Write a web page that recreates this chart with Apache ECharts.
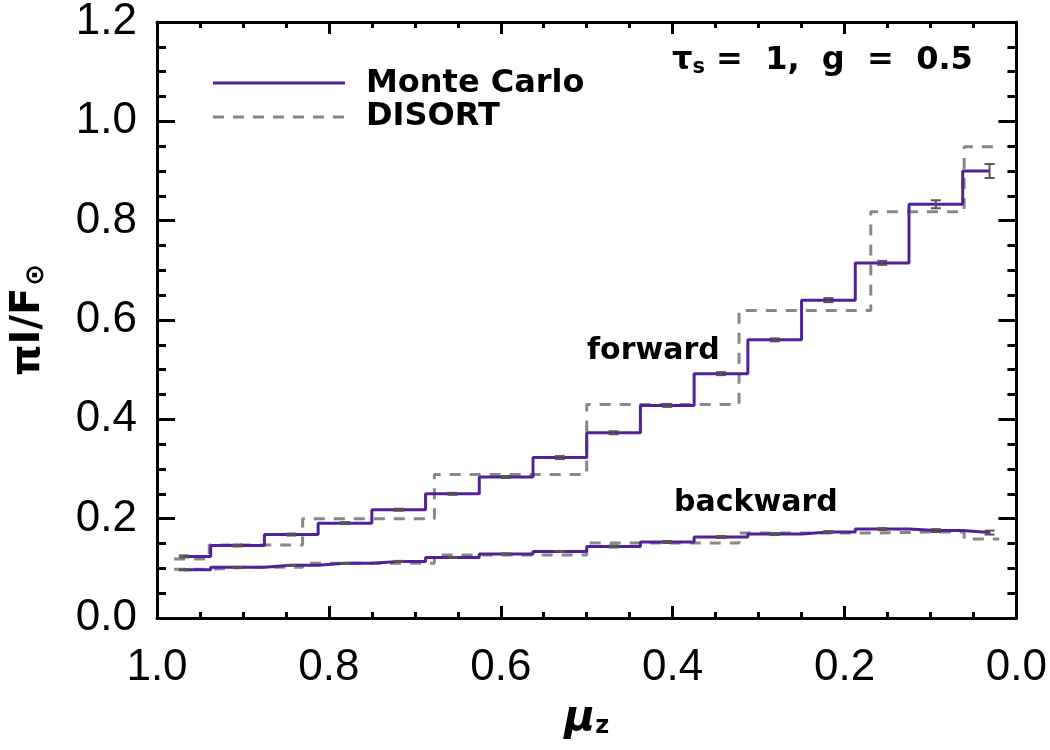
<!DOCTYPE html>
<html>
<head>
<meta charset="utf-8">
<script src="https://cdn.jsdelivr.net/npm/echarts@6/dist/echarts.min.js"></script>
<style>
  html, body { margin: 0; padding: 0; background: #fff; }
  #main { width: 1050px; height: 750px; }
</style>
</head>
<body>
<div id="main"></div>
<script>
// Monte Carlo bins (centres in mu_z) and values
var muMC = [0.96875, 0.90625, 0.84375, 0.78125, 0.71875, 0.65625, 0.59375, 0.53125,
            0.46875, 0.40625, 0.34375, 0.28125, 0.21875, 0.15625, 0.09375, 0.03125];
var mcForward = [0.124, 0.146, 0.168, 0.191, 0.218, 0.250, 0.284, 0.323,
                 0.373, 0.428, 0.492, 0.560, 0.640, 0.715, 0.833, 0.900];
var mcForwardErr = [0.002, 0.002, 0.002, 0.002, 0.002, 0.002, 0.002, 0.003,
                    0.003, 0.003, 0.003, 0.003, 0.004, 0.004, 0.008, 0.014];
var mcBackward = [0.097, 0.102, 0.106, 0.110, 0.114, 0.122, 0.129, 0.134,
                  0.144, 0.153, 0.163, 0.169, 0.173, 0.179, 0.176, 0.172];
var mcBackwardErr = [0.001, 0.001, 0.001, 0.001, 0.001, 0.001, 0.001, 0.001,
                     0.002, 0.002, 0.002, 0.002, 0.002, 0.002, 0.003, 0.004];

// DISORT quadrature angles and values
var muDS = [0.9801, 0.8983, 0.7628, 0.5917, 0.4083, 0.2372, 0.1017, 0.0199];
var dsForward = [0.119, 0.147, 0.200, 0.289, 0.430, 0.619, 0.818, 0.949];
var dsBackward = [0.098, 0.102, 0.110, 0.127, 0.151, 0.171, 0.173, 0.159];

var xTicks = ['1.0', '0.8', '0.6', '0.4', '0.2', '0.0'];
var yTicks = ['0.0', '0.2', '0.4', '0.6', '0.8', '1.0', '1.2'];

var purple = '#52209a';
var grey = '#888888';
var tickFont = 'Liberation Sans';
var textFont = 'DejaVu Sans';

function pairs(xs, ys) {
    return xs.map(function (x, i) { return [x, ys[i]]; });
}
function errData(xs, ys, es) {
    return xs.map(function (x, i) { return [x, ys[i] - es[i], ys[i] + es[i]]; });
}

function errorBar(params, api) {
    var top = api.coord([api.value(0), api.value(2)]);
    var bot = api.coord([api.value(0), api.value(1)]);
    var w = 5;
    var st = { stroke: '#555555', lineWidth: 2 };
    return {
        type: 'group',
        children: [
            { type: 'line', shape: { x1: top[0], y1: top[1], x2: bot[0], y2: bot[1] }, style: st },
            { type: 'line', shape: { x1: top[0] - w, y1: top[1], x2: top[0] + w, y2: top[1] }, style: st },
            { type: 'line', shape: { x1: bot[0] - w, y1: bot[1], x2: bot[0] + w, y2: bot[1] }, style: st }
        ]
    };
}

var myChart = echarts.init(document.getElementById('main'));

var axisLine = { show: true, onZero: false, lineStyle: { color: '#000', width: 3 } };

var option = {
    animation: false,
    backgroundColor: '#fff',
    grid: { left: 157, right: 30, top: 22, bottom: 132, containLabel: false },
    xAxis: [
        {
            type: 'value', min: 0, max: 1, interval: 0.2, inverse: true, position: 'bottom',
            axisLine: axisLine,
            axisTick: { show: true, inside: true, length: 12, lineStyle: { color: '#000', width: 3 } },
            minorTick: { show: true, splitNumber: 4, length: 6, lineStyle: { color: '#000', width: 3 } },
            splitLine: { show: false },
            axisLabel: {
                margin: 28, color: '#000', fontSize: 44, fontFamily: tickFont,
                formatter: function (v) { return xTicks[Math.round((1 - v) / 0.2)]; }
            },
            name: '{m|μ}{s|z}', nameLocation: 'middle', nameGap: 80,
            nameTextStyle: {
                rich: {
                    m: { fontSize: 42, fontWeight: 'bold', fontStyle: 'italic', fontFamily: textFont, color: '#000' },
                    s: { fontSize: 24, fontWeight: 'bold', fontFamily: textFont, color: '#000', padding: [16, 0, 0, 0] }
                }
            }
        },
        {
            type: 'value', min: 0, max: 1, interval: 0.2, inverse: true, position: 'top',
            axisLine: axisLine,
            axisTick: { show: true, inside: true, length: 12, lineStyle: { color: '#000', width: 3 } },
            minorTick: { show: true, splitNumber: 4, length: 6, lineStyle: { color: '#000', width: 3 } },
            splitLine: { show: false },
            axisLabel: { show: false }
        }
    ],
    yAxis: [
        {
            type: 'value', min: 0, max: 1.2, interval: 0.2, position: 'left',
            axisLine: axisLine,
            axisTick: { show: true, inside: true, length: 18, lineStyle: { color: '#000', width: 3 } },
            minorTick: { show: true, splitNumber: 4, length: 9, lineStyle: { color: '#000', width: 3 } },
            splitLine: { show: false },
            axisLabel: {
                margin: 20, color: '#000', fontSize: 44, fontFamily: tickFont,
                formatter: function (v) { return yTicks[Math.round(v / 0.2)]; }
            },
            name: '{p|πI/F}{s|⊙}', nameLocation: 'middle', nameGap: 108, nameRotate: 90,
            nameTextStyle: {
                rich: {
                    p: { fontSize: 40, fontWeight: 'bold', fontFamily: textFont, color: '#000' },
                    s: { fontSize: 26, fontWeight: 'bold', fontFamily: textFont, color: '#000', padding: [14, 0, 0, 2] }
                }
            }
        },
        {
            type: 'value', min: 0, max: 1.2, interval: 0.2, position: 'right',
            axisLine: axisLine,
            axisTick: { show: true, inside: true, length: 18, lineStyle: { color: '#000', width: 3 } },
            minorTick: { show: true, splitNumber: 4, length: 9, lineStyle: { color: '#000', width: 3 } },
            splitLine: { show: false },
            axisLabel: { show: false }
        }
    ],
    graphic: [
        { type: 'line', shape: { x1: 213, y1: 83, x2: 345, y2: 83 }, style: { stroke: purple, lineWidth: 3 } },
        { type: 'line', shape: { x1: 213, y1: 117, x2: 345, y2: 117 }, style: { stroke: grey, lineWidth: 3, lineDash: [11, 9] } },
        { type: 'text', left: 366, top: 68, style: { text: 'Monte Carlo', fontSize: 32, fontWeight: 'bold', fontFamily: textFont, fill: '#000' } },
        { type: 'text', left: 366, top: 101, style: { text: 'DISORT', fontSize: 32, fontWeight: 'bold', fontFamily: textFont, fill: '#000' } },
        { type: 'text', left: 587, top: 336, style: { text: 'forward', fontSize: 30, fontWeight: 'bold', fontFamily: textFont, fill: '#000' } },
        { type: 'text', left: 674, top: 488, style: { text: 'backward', fontSize: 30, fontWeight: 'bold', fontFamily: textFont, fill: '#000' } },
        {
            type: 'text', left: 672, top: 45,
            style: {
                text: '{t|τ}{s|s}{t| =  1,  g  =  0.5}',
                rich: {
                    t: { fontSize: 32, fontWeight: 'bold', fontFamily: textFont, fill: '#000' },
                    s: { fontSize: 21, fontWeight: 'bold', fontFamily: textFont, fill: '#000', padding: [14, 0, 0, 0] }
                }
            }
        }
    ],
    series: [
        {
            name: 'DISORT forward', type: 'line', step: 'middle', symbol: 'none',
            data: pairs(muDS, dsForward),
            lineStyle: { color: grey, width: 3, type: [11, 9] }, z: 2
        },
        {
            name: 'DISORT backward', type: 'line', step: 'middle', symbol: 'none',
            data: pairs(muDS, dsBackward),
            lineStyle: { color: grey, width: 3, type: [11, 9] }, z: 2
        },
        {
            name: 'Monte Carlo forward', type: 'line', step: 'middle', symbol: 'none',
            data: pairs(muMC, mcForward),
            lineStyle: { color: purple, width: 3 }, z: 3
        },
        {
            name: 'Monte Carlo backward', type: 'line', step: 'middle', symbol: 'none',
            data: pairs(muMC, mcBackward),
            lineStyle: { color: purple, width: 3 }, z: 3
        },
        {
            type: 'custom', renderItem: errorBar, z: 4,
            encode: { x: 0, y: [1, 2] },
            data: errData(muMC, mcForward, mcForwardErr)
        },
        {
            type: 'custom', renderItem: errorBar, z: 4,
            encode: { x: 0, y: [1, 2] },
            data: errData(muMC, mcBackward, mcBackwardErr)
        }
    ]
};
myChart.setOption(option);
</script>
</body>
</html>
